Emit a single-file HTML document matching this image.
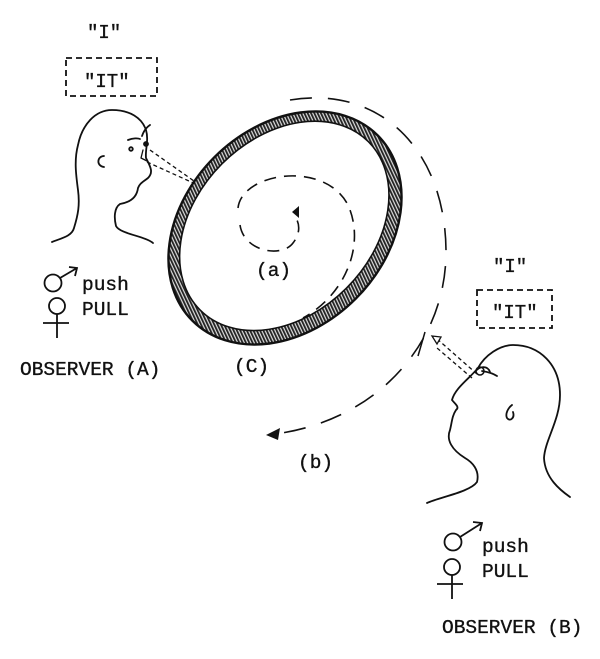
<!DOCTYPE html>
<html><head><meta charset="utf-8"><style>
html,body{margin:0;padding:0;background:#fff;}
svg{display:block}
text{font-family:"Liberation Mono","DejaVu Sans Mono",monospace;fill:#111;stroke:#111;stroke-width:0.35;}
</style></head><body>
<svg width="600" height="659" viewBox="0 0 600 659" xmlns="http://www.w3.org/2000/svg">
<defs>
<pattern id="h" width="3" height="3" patternUnits="userSpaceOnUse" patternTransform="rotate(20)">
<rect width="3" height="3" fill="#ddd"/><rect width="1.8" height="3" fill="#222"/>
</pattern>
</defs>
<g fill="none" stroke="#111" stroke-width="1.8" stroke-linecap="round" stroke-linejoin="round">
<path d="M52,242 C62,238 72,236 74,228 C78,215 80,205 78,190 C76,175 74,160 78,145 C82,125 95,110 112,110 C130,110 142,118 146,130 C149,140 145,150 146,158 C150,166 154,172 148,178 C143,182 140,183 138,188 C137,196 132,202 120,204 C114,208 114,218 116,226 C120,234 145,236 153,243"/>
<path d="M104,156 C97,156 96,166 104,167"/>
<path d="M128,140 C133,138 138,138 140,139"/>
<path d="M142,136 C144,130 147,127 150,125"/>
<circle cx="131" cy="149" r="1.8"/>
<circle cx="146" cy="144" r="2" fill="#111"/>
<path d="M143,150 L141,158 L147,161" stroke-width="1.3"/>
<path d="M427,503 C440,497 470,492 477,482 C480,470 472,462 465,458 C452,450 446,440 450,430 C452,422 452,416 456,410 C460,407 455,404 452,400 C455,388 470,378 478,368 C485,355 500,345 513,345 C540,345 560,365 560,395 C560,420 545,440 544,458 C545,478 560,490 570,497"/>
<path d="M512,405 C508,408 505,414 507,418 C510,422 515,418 513,412"/>
<path d="M475,372 C480,365 488,366 490,372"/>
<path d="M482,371 C488,372 494,374 497,376"/>
<circle cx="480" cy="371" r="4" stroke-width="1.5"/>
</g>
<g fill="none" stroke="#111" stroke-width="1.3" stroke-dasharray="4,3">
<path d="M150,150 L228,205"/>
<path d="M147,162 L200,186"/>
<path d="M477,374 L436,338"/>
<path d="M472,378 L437,348"/>
</g>
<path d="M224,206 L232,202 L233,211 Z" fill="#fff" stroke="#111" stroke-width="1.3"/>
<path d="M432,336 L441,337 L437,344 Z" fill="#fff" stroke="#111" stroke-width="1.3"/>
<path d="M425,332 L418,356" stroke="#111" stroke-width="1.5" fill="none"/>
<g transform="rotate(-45 285 228)">
<ellipse cx="285" cy="228" rx="131" ry="100" fill="url(#h)" stroke="#111" stroke-width="2.4"/>
<ellipse cx="286" cy="226" rx="119" ry="88" fill="#fff" stroke="#111" stroke-width="1.6"/>
</g>
<g fill="none" stroke="#111" stroke-width="1.6" stroke-dasharray="12,8">
<path d="M238,208 C242,172 325,160 348,205 C366,245 345,295 303,318"/>
<path d="M240,225 C244,252 282,258 293,243 C300,234 300,225 296,218"/>
</g>
<path d="M292,212 L299,206 L299,218 Z" fill="#111"/>
<path d="M290,100 C380,85 445,150 446,250 C447,340 380,420 275,434" fill="none" stroke="#111" stroke-width="1.6" stroke-dasharray="22,16"/>
<path d="M266,435 L280,428 L278,440 Z" fill="#111"/>
<rect x="66" y="58" width="91" height="38" fill="none" stroke="#111" stroke-width="1.8" stroke-dasharray="6,4"/>
<rect x="477" y="290" width="75" height="38" fill="none" stroke="#111" stroke-width="1.8" stroke-dasharray="6,4"/>
<g fill="none" stroke="#111" stroke-width="1.8">
<circle cx="53" cy="283" r="8.5"/><path d="M60,278 L77,268 M69,267 L77,268 L75,276"/>
<circle cx="57" cy="306" r="8"/><path d="M57,314 L57,338 M43,323 L69,323"/>
<circle cx="453" cy="542" r="8.5"/><path d="M460,537 L482,523 M473,522 L482,523 L480,531"/>
<circle cx="452" cy="567" r="8"/><path d="M452,575 L452,599 M437,584 L463,584"/>
</g>
<text x="87" y="38" font-size="19">"I"</text>
<text x="84" y="87" font-size="19">"IT"</text>
<text x="493" y="272" font-size="19">"I"</text>
<text x="492" y="318" font-size="19">"IT"</text>
<text x="82" y="290" font-size="19.5">push</text>
<text x="82" y="315" font-size="19.5">PULL</text>
<text x="482" y="552" font-size="19.5">push</text>
<text x="482" y="577" font-size="19.5">PULL</text>
<text x="20" y="375" font-size="19.5">OBSERVER (A)</text>
<text x="442" y="633" font-size="19.5">OBSERVER (B)</text>
<text x="256" y="276" font-size="19.5">(a)</text>
<text x="234" y="372" font-size="19.5">(C)</text>
<text x="298" y="468" font-size="19.5">(b)</text>
</svg>
</body></html>
